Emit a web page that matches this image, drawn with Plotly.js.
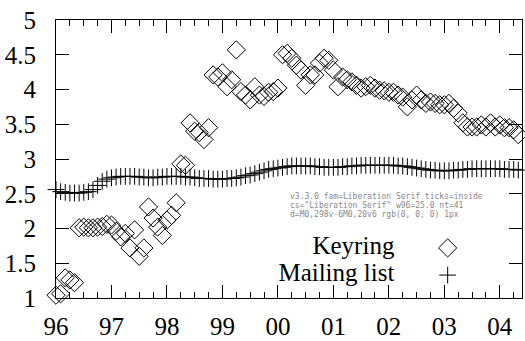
<!DOCTYPE html>
<html>
<head>
<meta charset="utf-8">
<script src="https://cdn.plot.ly/plotly-3.0.1.min.js"></script>
<style>
html,body{margin:0;padding:0;background:#fff;}
#chart{width:525px;height:341px;}
#dbg{position:absolute;left:290px;top:192px;width:230px;font-size:8px;line-height:9px;font-family:monospace;white-space:pre-wrap;color:#888;}
</style>
</head>
<body>
<div id="chart"></div>
<div id="dbg"></div>
<script>
// Monthly series starting Jan 1996 (x = 96 + month/12)
const startYear = 96;
const keyringValues = [
  1.04, 1.06, 1.29, 1.26, 1.22, 2.01, 2.02, 2.01, 2.01, 2.02, 2.03, 2.06,
  2.05, 1.96, 1.88, 1.93, 1.72, 1.98, 1.60, 1.72, 2.31, 2.15, 2.02, 1.90,
  2.12, 2.19, 2.37, 2.93, 2.91, 3.52, 3.40, 3.38, 3.28, 3.45, 4.21, 4.18,
  4.24, 4.04, 4.14, 4.57, 3.97, 3.92, 3.85, 4.04, 3.92, 3.90, 3.96, 3.97,
  4.02, 4.50, 4.52, 4.45, 4.35, 4.28, 4.06, 4.21, 4.21, 4.38, 4.45, 4.42,
  4.28, 4.04, 4.18, 4.14, 4.11, 4.06, 4.02, 4.04, 4.06, 4.02, 3.99, 3.98,
  3.96, 3.96, 3.92, 3.89, 3.75, 3.85, 3.92, 3.85, 3.80, 3.82, 3.80, 3.78,
  3.78, 3.80, 3.73, 3.66, 3.52, 3.46, 3.46, 3.46, 3.49, 3.46, 3.52, 3.46,
  3.49, 3.45, 3.45, 3.42, 3.35
];
const mailingValues = [
  2.56, 2.53, 2.52, 2.51, 2.51, 2.51, 2.52, 2.53, 2.56, 2.62, 2.68, 2.71,
  2.73, 2.74, 2.75, 2.75, 2.75, 2.75, 2.74, 2.74, 2.73, 2.73, 2.74, 2.74,
  2.75, 2.75, 2.75, 2.75, 2.74, 2.74, 2.73, 2.72, 2.72, 2.72, 2.71, 2.71,
  2.71, 2.72, 2.72, 2.73, 2.74, 2.76, 2.77, 2.79, 2.81, 2.83, 2.85, 2.86,
  2.87, 2.88, 2.89, 2.90, 2.90, 2.90, 2.90, 2.90, 2.89, 2.89, 2.88, 2.88,
  2.88, 2.88, 2.89, 2.89, 2.90, 2.90, 2.91, 2.91, 2.91, 2.91, 2.91, 2.91,
  2.91, 2.91, 2.90, 2.90, 2.89, 2.88, 2.87, 2.86, 2.85, 2.84, 2.84, 2.83,
  2.83, 2.83, 2.84, 2.84, 2.85, 2.85, 2.86, 2.86, 2.86, 2.86, 2.86, 2.86,
  2.86, 2.85, 2.85, 2.85, 2.84
];
const xTickVals = [96, 97, 98, 99, 100, 101, 102, 103, 104];
const xTickText = ["96", "97", "98", "99", "00", "01", "02", "03", "04"];
const seriesNames = ["Keyring", "Mailing list"];
// legend placement (data coordinates)
const legendTextX = [102.1, 102.1];
const legendSampleX = [103.06, 103.06];
const legendY = [1.72, 1.33];

const keyX = keyringValues.map((v, i) => startYear + i / 12);
const mailX = mailingValues.map((v, i) => startYear + i / 12);

const FONT = 'Liberation Serif';
const dbg = document.getElementById('dbg');

const plusMarker = {symbol: 'cross-thin-open', size: 12, color: '#000', line: {width: 1, color: '#000'}};
const diamondMarker = {symbol: 'diamond-open', size: 14, color: '#000', line: {width: 1, color: '#000'}};

const traces = [
  {x: mailX, y: mailingValues, type: 'scatter', mode: 'markers', marker: plusMarker,
   cliponaxis: false, showlegend: false, hoverinfo: 'skip'},
  {x: keyX, y: keyringValues, type: 'scatter', mode: 'markers', marker: diamondMarker,
   cliponaxis: false, showlegend: false, hoverinfo: 'skip'},
  {x: [legendSampleX[0]], y: [legendY[0]], type: 'scatter', mode: 'markers', marker: diamondMarker,
   cliponaxis: false, showlegend: false, hoverinfo: 'skip'},
  {x: [legendSampleX[1]], y: [legendY[1]], type: 'scatter', mode: 'markers', marker: plusMarker,
   cliponaxis: false, showlegend: false, hoverinfo: 'skip'},
  {x: legendTextX, y: legendY, text: seriesNames, type: 'scatter', mode: 'text',
   textposition: 'middle left', textfont: {family: FONT, size: 25, color: '#000'},
   cliponaxis: false, showlegend: false, hoverinfo: 'skip'}
];

const layout = {
  width: 525, height: 341,
  margin: {l: 56, r: 3, t: 20, b: 43, pad: 0},
  paper_bgcolor: '#fff', plot_bgcolor: '#fff',
  font: {family: FONT, size: 25, color: '#000'},
  showlegend: false,
  xaxis: {
    range: [96, 104.4], showgrid: false, zeroline: false,
    showline: true, linecolor: '#000', linewidth: 1, mirror: 'allticks',
    ticks: 'inside', ticklen: 13, tickwidth: 1, tickcolor: '#000',
    tickmode: 'array', tickvals: xTickVals, ticktext: xTickText,
    ticklabelstandoff: 6,
    minor: {ticks: 'inside', ticklen: 6, dtick: 0.25, showgrid: false}
  },
  yaxis: {
    range: [1, 5], showgrid: false, zeroline: false,
    showline: true, linecolor: '#000', linewidth: 1, mirror: 'allticks',
    ticks: 'inside', ticklen: 13, tickwidth: 1, tickcolor: '#000',
    tick0: 1, dtick: 0.5, ticklabelstandoff: 14
  }
};

window.addEventListener('error', e => { dbg.textContent += '\nWINERR ' + e.message; });
try {
  Plotly.newPlot('chart', traces, layout, {displayModeBar: false}).then(gd => {
    const fl = gd._fullLayout;
    const t = document.querySelector('.xtick text');
    const cs = t ? getComputedStyle(t).fontFamily : 'none';
    const w = t ? t.getComputedTextLength().toFixed(1) : '-';
    const tp = document.querySelector('path.xtick');
    dbg.textContent = 'v' + Plotly.version + ' fam=' + fl.font.family + ' ticks=' + fl.xaxis.ticks +
      '\ncs=' + cs + ' w96=' + w + ' nt=' + document.querySelectorAll('path.xtick').length +
      '\nd=' + (tp ? tp.getAttribute('d') + ' ' + getComputedStyle(tp).stroke + ' ' + getComputedStyle(tp).strokeWidth : '-');
  }).catch(e => { dbg.textContent += 'ERR ' + e; });
} catch (e) { dbg.textContent += 'CATCH ' + e; }
</script>
</body>
</html>
